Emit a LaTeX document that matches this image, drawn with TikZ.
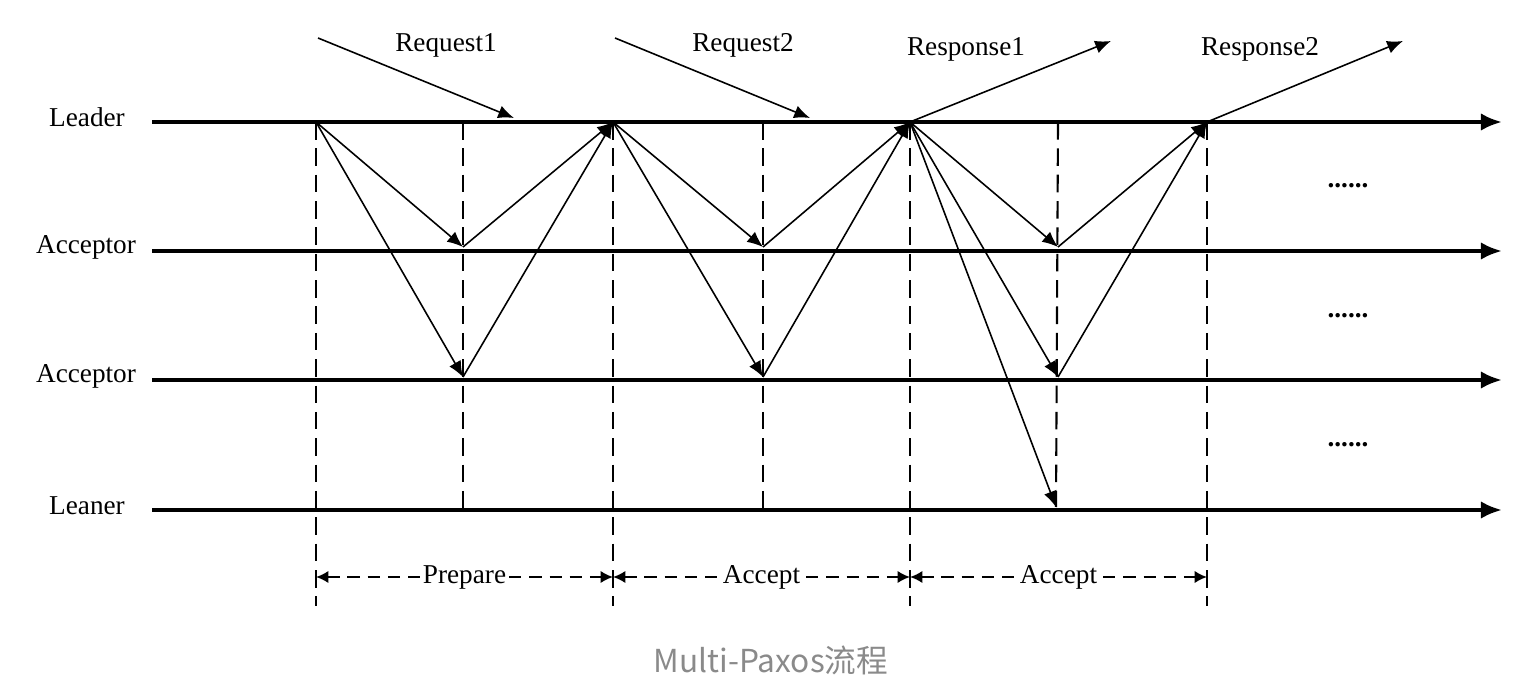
\documentclass[tikz,border=0pt]{standalone}
\usepackage{fontspec}
\setmainfont{Liberation Serif}
\newfontfamily\cjk{Noto Sans CJK SC}
\usetikzlibrary{arrows.meta}
\definecolor{capgray}{HTML}{8A8A8A}

\begin{document}
\begin{tikzpicture}[x=0.02cm,y=-0.02cm,
    every node/.style={font=\fontsize{15.5}{18}\selectfont},
    timeline/.style={line width=2.2pt,-{Latex[length=12pt,width=10pt]}},
    msg/.style={line width=0.9pt,-{Latex[length=9pt,width=7.5pt]}},
    phase/.style={line width=1.2pt,dash pattern=on 10pt off 5pt},
    span/.style={line width=1.2pt,dash pattern=on 7pt off 4.5pt,
        {Latex[length=7pt,width=7pt]}-{Latex[length=7pt,width=7pt]}},
    spanlabel/.style={fill=white,inner sep=1pt}]
            \useasboundingbox (0,0) rectangle (1534,688);
            % role labels and time lines
            \node(leader)    at (87,117) {Leader};
            \node(acceptA)   at (86,247) {Acceptor};
            \node(acceptB)   at (86,376) {Acceptor};
            \node(leaner)    at (87,506) {Leaner};
            \coordinate(ls) at (152,122);  \coordinate(le) at (1502,122);
            \coordinate(as) at (152,251);  \coordinate(ae) at (1502,251);
            \coordinate(bs) at (152,380);  \coordinate(be) at (1502,380);
            \coordinate(cs) at (152,510);  \coordinate(ce) at (1502,510);
            \draw[timeline] (ls) -- (le);
            \draw[timeline] (as) -- (ae);
            \draw[timeline] (bs) -- (be);
            \draw[timeline] (cs) -- (ce);

            % crossing points
            \coordinate(L0) at (316,122);
            \coordinate(L2) at (613,122);
            \coordinate(L4) at (910,122);
            \coordinate(L6) at (1207,122);
            \coordinate(L1) at (463,122);
            \coordinate(L3) at (763,122);
            \coordinate(L5) at (1058,122);
            \coordinate(A1) at (463,247);
            \coordinate(A3) at (763,247);
            \coordinate(A5) at (1058,247);
            \coordinate(B1) at (463,377);
            \coordinate(B3) at (763,377);
            \coordinate(B5) at (1058,377);
            \coordinate(C1) at (463,510);
            \coordinate(C3) at (763,510);
            \coordinate(C5) at (1056,507);
            \coordinate(E0) at (316,606);
            \coordinate(E2) at (613,606);
            \coordinate(E4) at (910,606);
            \coordinate(E6) at (1207,606);
            \coordinate(M0) at (316,577);
            \coordinate(M2) at (613,577);
            \coordinate(M4) at (910,577);
            \coordinate(M6) at (1207,577);

            % phase borders
            \draw[phase] (L0) -- (E0);
            \draw[phase] (L2) -- (E2);
            \draw[phase] (L4) -- (E4);
            \draw[phase] (L6) -- (E6);
            \draw[phase] (L1) -- (C1);
            \draw[phase] (L3) -- (C3);
            \draw[phase] (L5) -- (C5);

            % client messages
            \coordinate(q1s) at (318,38);   \coordinate(q1e) at (514,118);
            \coordinate(q2s) at (615,38);   \coordinate(q2e) at (810,118);
            \coordinate(p1e) at (1111,41);
            \coordinate(p2e) at (1403,41);
            \node(req1)  at (446,45) {Request1};
            \node(req2)  at (743,45) {Request2};
            \node(resp1) at (966,49) {Response1};
            \node(resp2) at (1260,49) {Response2};
            \draw[msg] (q1s) -- (q1e);
            \draw[msg] (q2s) -- (q2e);
            \draw[msg] (L4) -- (p1e);
            \draw[msg] (L6) -- (p2e);

            % paxos messages
            \path
                (L0) edge [msg] (A1)
                     edge [msg] (B1)
                (A1) edge [msg] (L2)
                (B1) edge [msg] (L2)
                (L2) edge [msg] (A3)
                     edge [msg] (B3)
                (A3) edge [msg] (L4)
                (B3) edge [msg] (L4)
                (L4) edge [msg] (A5)
                     edge [msg] (B5)
                     edge [msg] (C5)
                (A5) edge [msg] (L6)
                (B5) edge [msg] (L6)
                ;

            \node[font=\bfseries\fontsize{15.5}{18}\selectfont](more1) at (1348,186) {......};
            \node[font=\bfseries\fontsize{15.5}{18}\selectfont](more2) at (1348,316) {......};
            \node[font=\bfseries\fontsize{15.5}{18}\selectfont](more3) at (1348,445) {......};

            % phases
            \draw[span] (M0) -- node[spanlabel] {Prepare} (M2);
            \draw[span] (M2) -- node[spanlabel] {Accept} (M4);
            \draw[span] (M4) -- node[spanlabel] {Accept} (M6);

            \node[text=capgray,font=\cjk\fontsize{18}{21}\selectfont](caption) at (771,660) {Multi-Paxos流程};
        \end{tikzpicture}
\end{document}
